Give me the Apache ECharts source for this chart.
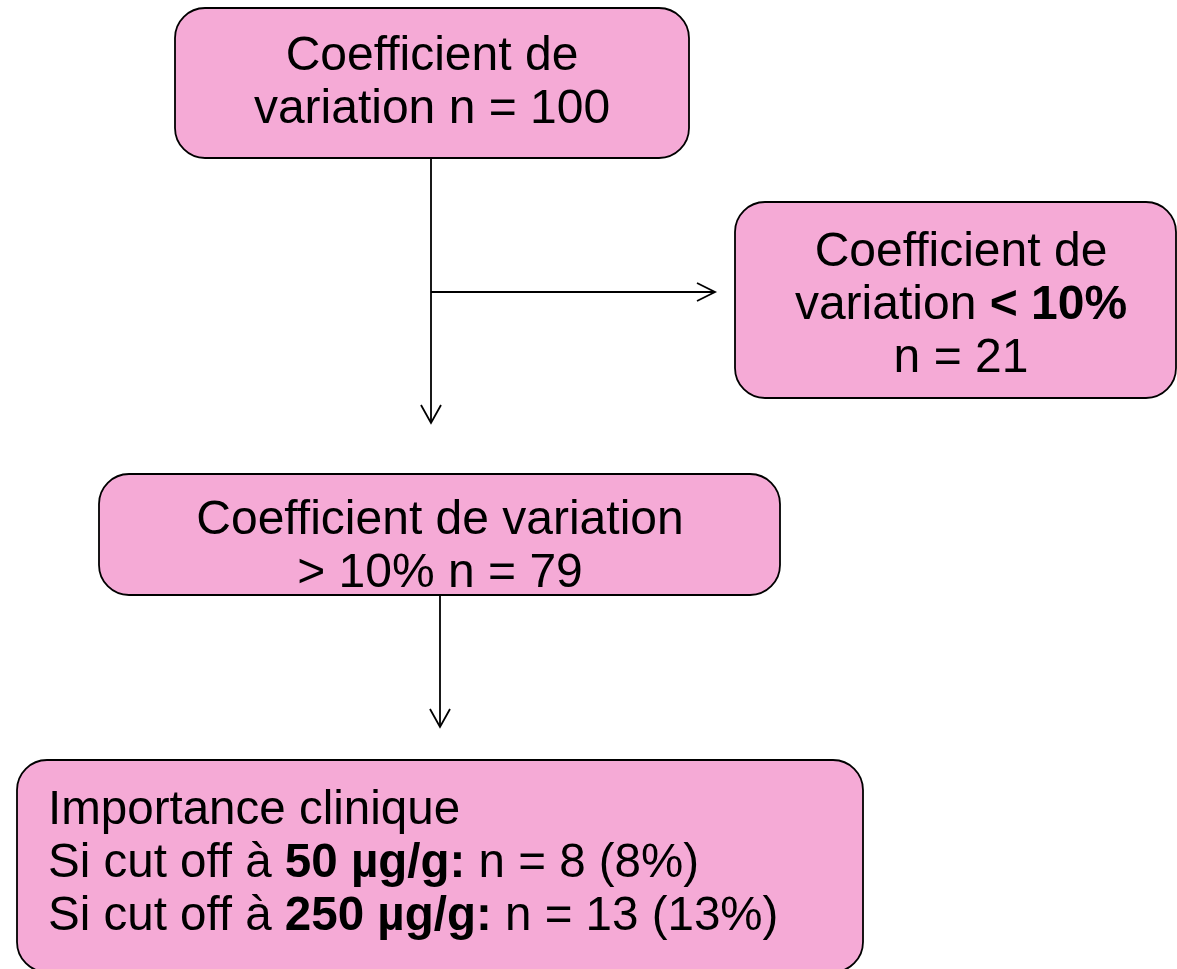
<!DOCTYPE html>
<html>
<head>
<meta charset="utf-8">
<title>Coefficient de variation</title>
<script src="https://cdn.jsdelivr.net/npm/echarts@6/dist/echarts.min.js"></script>
<style>
	html, body { margin: 0; padding: 0; background: #fff; }
	#chart { width: 1177px; height: 969px; }
</style>
</head>
<body>
<div id="chart"></div>
<script>
var nTotal = 100;
var nLow = 21;
var nHigh = 79;
var seuilCV = '10%';
var cutoffs = ['50 µg/g', '250 µg/g'];
var cutoffN = [8, 13];
var cutoffPct = [8, 13];

var FONT = '"Liberation Sans", Arial, Helvetica, sans-serif';
var PINK = '#F5AAD6';

var fc = {
	box : function(x, y, w, h) {
		return {
			type : 'rect',
			shape : { x : x, y : y, width : w, height : h, r : 30 },
			style : { fill : PINK, stroke : '#000', lineWidth : 1.8 }
		};
	},
	label : function(x, y, txt, align, sx) {
		return {
			type : 'text',
			x : x,
			y : y,
			scaleX : sx || 1,
			style : {
				text : txt,
				fill : '#000',
				fontSize : 48,
				fontFamily : FONT,
				lineHeight : 53,
				align : align || 'center',
				verticalAlign : 'middle',
				rich : {
					b : { fontSize : 48, fontFamily : FONT, fontWeight : 'bold', lineHeight : 53, fill : '#000' }
				}
			}
		};
	},
	line : function(pts) {
		return {
			type : 'polyline',
			shape : { points : pts },
			style : { stroke : '#000', lineWidth : 1.8, fill : null }
		};
	},
	arrowDown : function(x, y1, y2) {
		return [ fc.line([ [ x, y1 ], [ x, y2 ] ]),
			fc.line([ [ x - 10, y2 - 18 ], [ x, y2 ], [ x + 10, y2 - 18 ] ]) ];
	},
	arrowRight : function(x1, x2, y) {
		return [ fc.line([ [ x1, y ], [ x2, y ] ]),
			fc.line([ [ x2 - 18, y - 9 ], [ x2, y ], [ x2 - 18, y + 9 ] ]) ];
	}
};

var elements = [];
elements = elements.concat(fc.arrowDown(431, 158, 423));
elements = elements.concat(fc.arrowRight(431, 715, 292));
elements = elements.concat(fc.arrowDown(440, 595, 727));

elements.push(fc.box(175, 8, 514, 150));
elements.push(fc.label(432, 83, 'Coefficient de\nvariation n = ' + nTotal));

elements.push(fc.box(735, 202, 441, 196));
elements.push(fc.label(961, 306, 'Coefficient de\nvariation {b|< ' + seuilCV + '}\nn = ' + nLow));

elements.push(fc.box(99, 474, 681, 121));
elements.push(fc.label(440, 547, 'Coefficient de variation\n> ' + seuilCV + ' n = ' + nHigh));

elements.push(fc.box(17, 760, 846, 212));
var lignes = [ 'Importance clinique' ];
for (var i = 0; i < cutoffs.length; i++) {
	lignes.push('Si cut off à {b|' + cutoffs[i] + ':} n = ' + cutoffN[i] + ' (' + cutoffPct[i] + '%)');
}
elements.push(fc.label(48, 864, lignes.join('\n'), 'left', 0.99));

var chart = echarts.init(document.getElementById('chart'));
chart.setOption({
	backgroundColor : '#fff',
	animation : false,
	graphic : { elements : elements }
});
</script>
</body>
</html>
